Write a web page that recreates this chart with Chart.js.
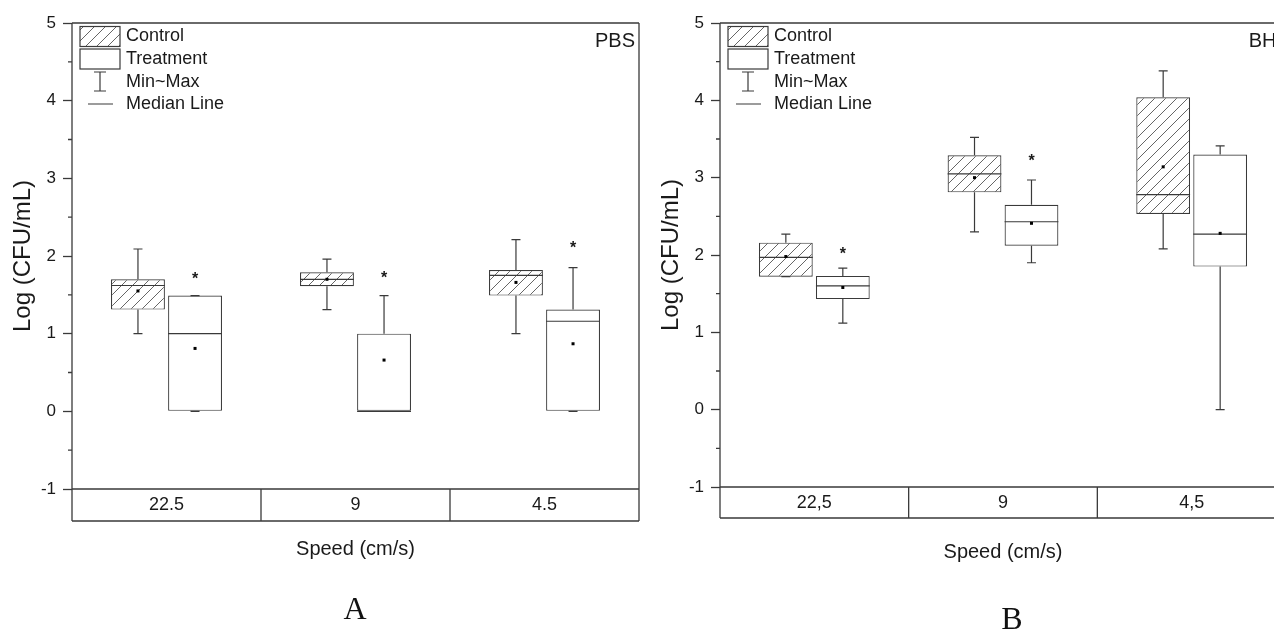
<!DOCTYPE html>
<html>
<head>
<meta charset="utf-8">
<script src="https://cdn.jsdelivr.net/npm/chart.js@4.4.1/dist/chart.umd.min.js"></script>
<style>
	body {
		margin: 0;
		width: 1274px;
		height: 635px;
		overflow: hidden;
		background: #fff;
		position: relative;
	}
	canvas {
		position: absolute;
		top: 0;
	}
	#chart-pbs {
		left: 0;
	}
	#chart-bh {
		left: 648px;
	}
	.panel-letter {
		position: absolute;
		font-family: "Liberation Serif", "Times New Roman", serif;
		font-size: 32px;
		color: #111;
		transform: translate(-50%, -50%);
	}
</style>
</head>
<body>
<canvas id="chart-pbs" width="660" height="635"></canvas>
<canvas id="chart-bh" width="660" height="635"></canvas>
<div class="panel-letter" style="left: 355px; top: 608px">A</div>
<div class="panel-letter" style="left: 1012px; top: 618px">B</div>

<script>
// Categories
const speedLabelsPBS = ["22.5", "9", "4.5"];
const speedLabelsBH = ["22,5", "9", "4,5"];
const legendLabels = ["Control", "Treatment", "Min~Max", "Median Line"];

// PBS - Control
const pbsControlMin = [1.0, 1.31, 1.0];
const pbsControlQ1 = [1.31, 1.61, 1.49];
const pbsControlMedian = [1.62, 1.7, 1.75];
const pbsControlQ3 = [1.7, 1.79, 1.82];
const pbsControlMax = [2.09, 1.96, 2.21];
const pbsControlMean = [1.55, 1.7, 1.66];

// PBS - Treatment
const pbsTreatMin = [0, 0, 0];
const pbsTreatQ1 = [0, 0, 0];
const pbsTreatMedian = [1.0, 0, 1.16];
const pbsTreatQ3 = [1.49, 1.0, 1.31];
const pbsTreatMax = [1.49, 1.49, 1.85];
const pbsTreatMean = [0.81, 0.66, 0.87];
const pbsStars = [1.76, 1.77, 2.15];

// BH - Control
const bhControlMin = [1.72, 2.3, 2.08];
const bhControlQ1 = [1.72, 2.81, 2.53];
const bhControlMedian = [1.97, 3.05, 2.78];
const bhControlQ3 = [2.16, 3.29, 4.04];
const bhControlMax = [2.27, 3.52, 4.38];
const bhControlMean = [1.98, 3.0, 3.14];

// BH - Treatment
const bhTreatMin = [1.12, 1.9, 0];
const bhTreatQ1 = [1.43, 2.12, 1.85];
const bhTreatMedian = [1.6, 2.43, 2.27];
const bhTreatQ3 = [1.73, 2.65, 3.3];
const bhTreatMax = [1.83, 2.97, 3.41];
const bhTreatMean = [1.58, 2.41, 2.28];
const bhStars = [2.07, 3.27, null];

const LINE = "#3a3a3a";
const TEXT = "#1a1a1a";
const SANS = "'Liberation Sans', Arial, sans-serif";

const makeHatch = (ctx) => {
	const tile = document.createElement("canvas");
	tile.width = 11;
	tile.height = 11;
	const c = tile.getContext("2d");
	c.fillStyle = "#fff";
	c.fillRect(0, 0, 11, 11);
	c.strokeStyle = "#555";
	c.lineWidth = 0.9;
	c.beginPath();
	c.moveTo(0, 11);
	c.lineTo(11, 0);
	c.moveTo(-1, 1);
	c.lineTo(1, -1);
	c.moveTo(10, 12);
	c.lineTo(12, 10);
	c.stroke();
	return ctx.createPattern(tile, "repeat");
};

const buildPanel = (canvasId, cfg) => {
	const ctx = document.getElementById(canvasId).getContext("2d");
	const hatch = makeHatch(ctx);
	const groups = [cfg.control, cfg.treatment];

	const boxExtras = {
		id: "boxExtras",
		afterDatasetsDraw(chart) {
			const c = chart.ctx;
			const yScale = chart.scales.y;
			const py = (v) => yScale.getPixelForValue(v);
			const capW = 9;

			groups.forEach((s, d) => {
				const meta = chart.getDatasetMeta(d);
				meta.data.forEach((bar, i) => {
					const x = bar.x;
					const half = bar.width / 2;
					c.save();
					c.strokeStyle = LINE;
					c.lineWidth = 1.2;
					c.beginPath();
					// whiskers
					c.moveTo(x, py(s.q3[i]));
					c.lineTo(x, py(s.max[i]));
					c.moveTo(x - capW / 2, py(s.max[i]));
					c.lineTo(x + capW / 2, py(s.max[i]));
					c.moveTo(x, py(s.q1[i]));
					c.lineTo(x, py(s.min[i]));
					c.moveTo(x - capW / 2, py(s.min[i]));
					c.lineTo(x + capW / 2, py(s.min[i]));
					// median
					c.moveTo(x - half, py(s.median[i]));
					c.lineTo(x + half, py(s.median[i]));
					c.stroke();
					// mean
					c.fillStyle = "#000";
					c.fillRect(x - 1.5, py(s.mean[i]) - 1.5, 3, 3);
					// significance
					if (s.stars && s.stars[i] != null) {
						c.font = "bold 16px " + SANS;
						c.textAlign = "center";
						c.textBaseline = "alphabetic";
						c.fillStyle = TEXT;
						c.fillText("*", x, py(s.stars[i]) + 9);
					}
					c.restore();
				});
			});
		},
		afterDraw(chart) {
			const c = chart.ctx;
			const { left, right, top, bottom } = chart.chartArea;
			const xScale = chart.scales.x;
			const yScale = chart.scales.y;
			const tableBottom = bottom + cfg.tableHeight;

			c.save();
			c.strokeStyle = LINE;
			c.lineWidth = 1.3;
			c.beginPath();
			// frame
			c.moveTo(left, top);
			c.lineTo(right, top);
			c.moveTo(left, top);
			c.lineTo(left, tableBottom);
			c.moveTo(right, top);
			c.lineTo(right, tableBottom);
			c.moveTo(left, bottom);
			c.lineTo(right, bottom);
			c.moveTo(left, tableBottom);
			c.lineTo(right, tableBottom);
			// category dividers in the table
			for (let i = 1; i < xScale.ticks.length; i++) {
				const xb = (xScale.getPixelForValue(i - 1) + xScale.getPixelForValue(i)) / 2;
				c.moveTo(xb, bottom);
				c.lineTo(xb, tableBottom);
			}
			// minor ticks
			yScale.ticks.forEach((t) => {
				if (!Number.isInteger(t.value)) {
					const yy = yScale.getPixelForValue(t.value);
					c.moveTo(left - 4, yy);
					c.lineTo(left, yy);
				}
			});
			c.stroke();

			// legend
			const lx = left + 8;
			c.lineWidth = 1.2;
			c.fillStyle = hatch;
			c.fillRect(lx, top + 3.5, 40, 20);
			c.strokeRect(lx, top + 3.5, 40, 20);
			c.fillStyle = "#fff";
			c.fillRect(lx, top + 26, 40, 20);
			c.strokeRect(lx, top + 26, 40, 20);
			c.beginPath();
			c.moveTo(lx + 20, top + 49);
			c.lineTo(lx + 20, top + 68);
			c.moveTo(lx + 14, top + 49);
			c.lineTo(lx + 26, top + 49);
			c.moveTo(lx + 14, top + 68);
			c.lineTo(lx + 26, top + 68);
			c.moveTo(lx + 8, top + 81);
			c.lineTo(lx + 33, top + 81);
			c.stroke();

			c.fillStyle = TEXT;
			c.font = "18px " + SANS;
			c.textAlign = "left";
			c.textBaseline = "middle";
			const rows = [13.5, 36, 59.5, 81];
			legendLabels.forEach((label, i) => {
				c.fillText(label, left + 54, top + rows[i]);
			});

			// medium tag
			c.font = "20px " + SANS;
			c.textAlign = "right";
			c.fillText(cfg.tag, right - 4, top + 18);
			c.restore();
		},
	};

	return new Chart(ctx, {
		type: "bar",
		data: {
			labels: cfg.labels,
			datasets: [
				{
					label: "Control",
					data: cfg.control.q1.map((q, i) => [q, cfg.control.q3[i]]),
					backgroundColor: hatch,
					borderColor: LINE,
					borderWidth: 1.2,
					borderSkipped: false,
				},
				{
					label: "Treatment",
					data: cfg.treatment.q1.map((q, i) => [q, cfg.treatment.q3[i]]),
					backgroundColor: "#fff",
					borderColor: LINE,
					borderWidth: 1.2,
					borderSkipped: false,
				},
			],
		},
		options: {
			responsive: false,
			animation: false,
			categoryPercentage: 0.604,
			barPercentage: 0.944,
			layout: {
				padding: { top: 23, right: cfg.padRight, bottom: cfg.padBottom, left: 0 },
			},
			plugins: {
				legend: { display: false },
				tooltip: { enabled: false },
			},
			scales: {
				x: {
					afterFit: (scale) => {
						scale.height = cfg.xHeight;
					},
					grid: { display: false, drawTicks: false },
					border: { display: false },
					ticks: {
						padding: 5,
						color: TEXT,
						font: { family: SANS, size: 18 },
					},
					title: {
						display: true,
						text: "Speed (cm/s)",
						color: TEXT,
						font: { family: SANS, size: 20 },
						padding: { top: 0, bottom: cfg.xTitlePad },
					},
				},
				y: {
					min: -1,
					max: 5,
					afterFit: (scale) => {
						scale.width = 72;
					},
					border: { display: false },
					grid: {
						drawOnChartArea: false,
						drawTicks: true,
						tickLength: 9,
						tickWidth: 1.3,
						tickColor: (c) => (Number.isInteger(c.tick.value) ? LINE : "rgba(0,0,0,0)"),
					},
					ticks: {
						stepSize: 0.5,
						padding: 7,
						color: TEXT,
						font: { family: SANS, size: 17 },
						callback: (v) => (Number.isInteger(v) ? String(v) : ""),
					},
					title: {
						display: true,
						text: "Log (CFU/mL)",
						color: TEXT,
						font: { family: SANS, size: 24 },
						padding: { top: 9, bottom: 0 },
					},
				},
			},
		},
		plugins: [boxExtras],
	});
};

buildPanel("chart-pbs", {
	labels: speedLabelsPBS,
	tag: "PBS",
	tableHeight: 32,
	padRight: 21,
	padBottom: 70,
	xHeight: 76,
	xTitlePad: 4,
	control: {
		min: pbsControlMin,
		q1: pbsControlQ1,
		median: pbsControlMedian,
		q3: pbsControlQ3,
		max: pbsControlMax,
		mean: pbsControlMean,
	},
	treatment: {
		min: pbsTreatMin,
		q1: pbsTreatQ1,
		median: pbsTreatMedian,
		q3: pbsTreatQ3,
		max: pbsTreatMax,
		mean: pbsTreatMean,
		stars: pbsStars,
	},
});

buildPanel("chart-bh", {
	labels: speedLabelsBH,
	tag: "BHI",
	tableHeight: 31,
	padRight: 22,
	padBottom: 68,
	xHeight: 80,
	xTitlePad: 3,
	control: {
		min: bhControlMin,
		q1: bhControlQ1,
		median: bhControlMedian,
		q3: bhControlQ3,
		max: bhControlMax,
		mean: bhControlMean,
	},
	treatment: {
		min: bhTreatMin,
		q1: bhTreatQ1,
		median: bhTreatMedian,
		q3: bhTreatQ3,
		max: bhTreatMax,
		mean: bhTreatMean,
		stars: bhStars,
	},
});
</script>
</body>
</html>
